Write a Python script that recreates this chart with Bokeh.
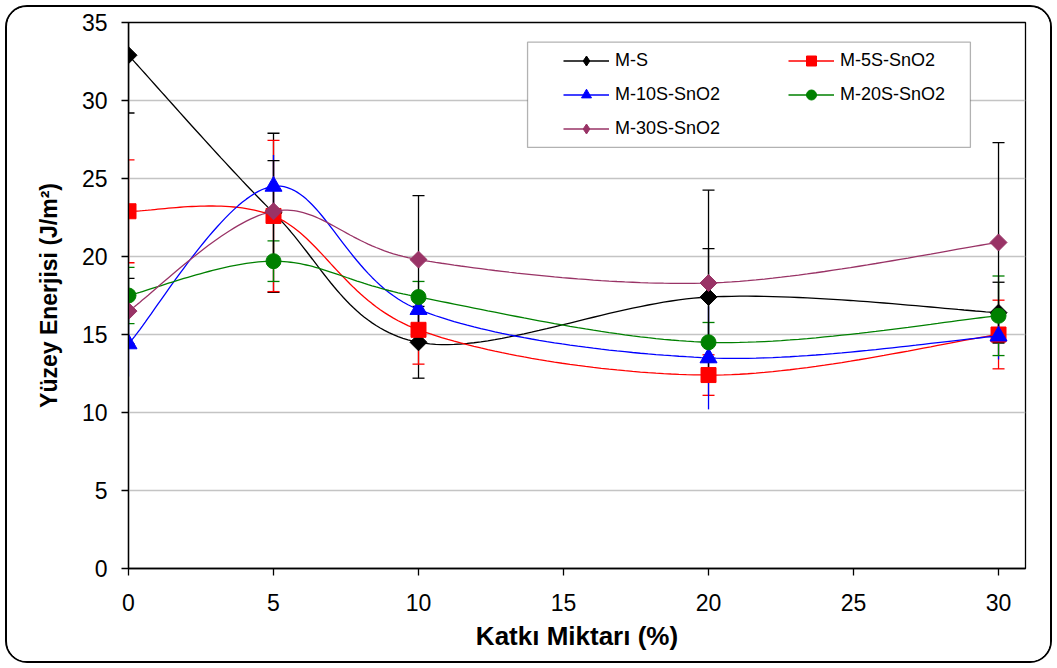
import numpy as np
from bokeh.plotting import figure
from bokeh.models import (ColumnDataSource, Range1d, Whisker, TeeHead, Legend,
                          LegendItem, BoxAnnotation, FixedTicker)
from bokeh.embed import file_html
from bokeh.resources import INLINE

# ---------------- data ----------------
katki = [0, 5, 10, 20, 30]

m_s = [32.9, 22.8, 14.5, 17.4, 16.4]
m_s_err = [3.7, 5.1, 2.3, 3.1, 1.95]

m_5s = [22.9, 22.6, 15.3, 12.4, 15.0]
m_5s_err = [3.3, 4.85, 2.2, 1.3, 2.2]

m_10s = [14.4, 24.5, 16.6, 13.5, 14.9]
m_10s_err = [2.1, 2.0, 1.0, 3.3, 1.5]

m_20s = [17.5, 19.7, 17.4, 14.5, 16.2]
m_20s_err = [1.8, 1.3, 1.0, 1.27, 2.55]

m_30s = [16.5, 22.9, 19.8, 18.3, 20.9]
m_30s_err = [2.1, 3.25, 4.1, 5.95, 6.4]

series_names = ["M-S", "M-5S-SnO2", "M-10S-SnO2", "M-20S-SnO2", "M-30S-SnO2"]
x_ticks = [0, 5, 10, 15, 20, 25, 30]
y_ticks = [0, 5, 10, 15, 20, 25, 30, 35]


def excel_smooth(xs, ys, n=40):
    pts = list(zip(xs, ys))
    N = len(pts)
    ox, oy = [], []
    for i in range(N - 1):
        p0 = pts[i - 1] if i > 0 else pts[i]
        p1 = pts[i]
        p2 = pts[i + 1]
        p3 = pts[i + 2] if i + 2 < N else pts[i + 1]
        c1 = (p1[0] + (p2[0] - p0[0]) / 6, p1[1] + (p2[1] - p0[1]) / 6)
        c2 = (p2[0] - (p3[0] - p1[0]) / 6, p2[1] - (p3[1] - p1[1]) / 6)
        t = np.linspace(0, 1, n, endpoint=(i == N - 2))
        a = (1 - t) ** 3
        b = 3 * (1 - t) ** 2 * t
        c = 3 * (1 - t) * t ** 2
        d = t ** 3
        ox.extend(a * p1[0] + b * c1[0] + c * c2[0] + d * p2[0])
        oy.extend(a * p1[1] + b * c1[1] + c * c2[1] + d * p2[1])
    return ox, oy


p = figure(frame_width=897, frame_height=546,
           x_range=Range1d(0, 30.93), y_range=Range1d(0, 35),
           output_backend="svg", toolbar_location=None,
           min_border_left=121, min_border_right=25,
           min_border_top=15, min_border_bottom=93,
           background_fill_color="white", border_fill_color="white")
p.outline_line_color = "black"
p.outline_line_width = 1.3
p.styles = {"border": "2px solid black", "border-radius": "22px",
            "margin": "5px", "overflow": "hidden"}

p.xgrid.visible = False
p.ygrid.grid_line_color = "#c4c4c4"
p.ygrid.grid_line_width = 1.5
p.xaxis.ticker = FixedTicker(ticks=x_ticks)
p.yaxis.ticker = FixedTicker(ticks=y_ticks)

for ax in (p.xaxis, p.yaxis):
    ax.axis_line_color = "black"
    ax.axis_line_width = 1.3
    ax.major_tick_line_color = "black"
    ax.major_tick_line_width = 1.3
    ax.major_tick_out = 7
    ax.major_tick_in = 0
    ax.minor_tick_line_color = None
    ax.major_label_text_font = "Liberation Sans"
    ax.major_label_text_font_size = "23px"
    ax.major_label_text_color = "black"
    ax.axis_label_text_font = "Liberation Sans"
    ax.axis_label_text_font_style = "bold"
    ax.axis_label_text_color = "black"

p.xaxis.axis_label = "Katkı Miktarı (%)"
p.yaxis.axis_label = "Yüzey Enerjisi (J/m²)"
p.xaxis.axis_label_text_font_size = "26px"
p.yaxis.axis_label_text_font_size = "23px"
p.xaxis.major_label_standoff = 18
p.yaxis.major_label_standoff = 14
p.xaxis.axis_label_standoff = 7
p.yaxis.axis_label_standoff = 17

specs = [
    (m_s, m_s_err, "#000000", "#000000", "square", 12, np.pi / 4, True, "diamond"),
    (m_5s, m_5s_err, "#FF0000", "#FF0000", "square", 15, 0.0, True, "square"),
    (m_10s, m_10s_err, "#0000FF", "#0000FF", "triangle", 17, 0.0, False, "triangle"),
    (m_20s, m_20s_err, "#008000", "#008000", "circle", 15, 0.0, True, "circle"),
    (m_30s, m_30s_err, "#993366", "#000000", "square", 12, np.pi / 4, True, "diamond"),
]

# error bars first
for vals, errs, col, ecol, mk, sz, ang, caps, lmk in specs:
    src = ColumnDataSource(dict(
        x=katki,
        upper=[v + e for v, e in zip(vals, errs)],
        lower=[v - e for v, e in zip(vals, errs)]))
    if caps:
        w = Whisker(base="x", upper="upper", lower="lower", source=src,
                    line_color=ecol, line_width=1.3,
                    upper_head=TeeHead(size=12, line_color=ecol, line_width=1.3),
                    lower_head=TeeHead(size=12, line_color=ecol, line_width=1.3))
    else:
        w = Whisker(base="x", upper="upper", lower="lower", source=src,
                    line_color=ecol, line_width=1.3,
                    upper_head=None, lower_head=None)
    p.add_layout(w)

items = []
for name, (vals, errs, col, ecol, mk, sz, ang, caps, lmk) in zip(series_names, specs):
    sx, sy = excel_smooth(katki, vals)
    ln = p.line(sx, sy, line_color=col, line_width=1.3)
    p.scatter(katki, vals, marker=mk, size=sz, angle=ang,
              fill_color=col, line_color=col)
    # marker used only for the legend swatch (legend ignores marker angle)
    key = p.scatter([np.nan], [np.nan], marker=lmk, size=sz,
                    fill_color=col, line_color=col)
    items.append(LegendItem(label=name, renderers=[ln, key]))

box = BoxAnnotation(left=13.76, right=29.03, top=33.74, bottom=26.99,
                    fill_color="white", fill_alpha=1.0,
                    line_color="black", line_width=1.3)
p.add_layout(box)

common = dict(orientation="vertical", padding=0, margin=0, spacing=9,
              glyph_width=46, glyph_height=25, label_height=25,
              label_standoff=6, background_fill_alpha=0.0,
              border_line_color=None, label_text_font="Liberation Sans",
              label_text_font_size="18px", label_text_color="black")
leg_a = Legend(items=[items[0], items[2], items[4]], location=(435, 427), **common)
leg_b = Legend(items=[items[1], items[3]], location=(660, 461), **common)
p.add_layout(leg_a)
p.add_layout(leg_b)

open("out.html", "w").write(file_html(p, INLINE))
